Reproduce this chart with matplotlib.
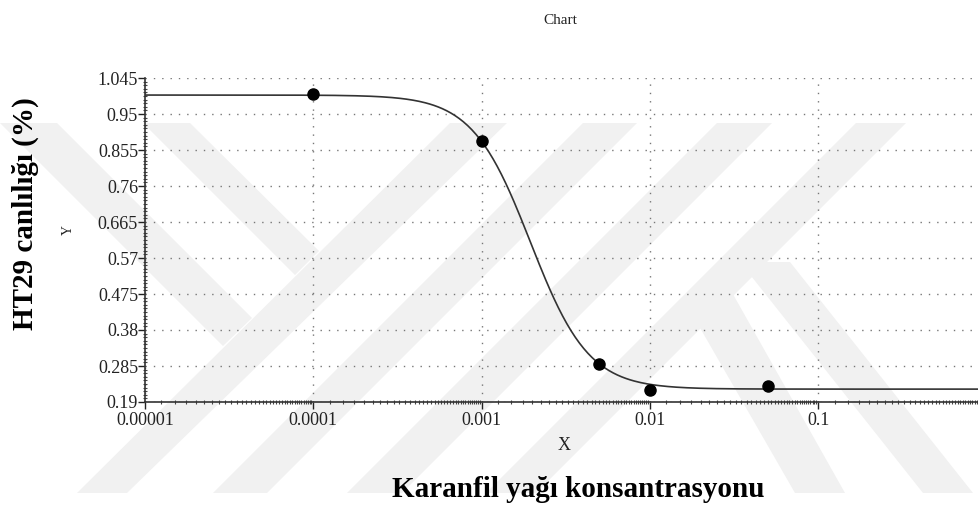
import numpy as np
import matplotlib
matplotlib.use("Agg")
from matplotlib import pyplot as plt
from matplotlib.patches import Polygon
from matplotlib.ticker import FixedLocator, FixedFormatter, LogLocator, NullFormatter, MultipleLocator

plt.rcParams['font.family'] = ['Liberation Serif', 'DejaVu Serif']

# doz-yanit verisi
konsantrasyon = [0.0001, 0.001, 0.005, 0.01, 0.05]
canlilik = [1.002, 0.878, 0.291, 0.222, 0.233]

# 4 parametreli lojistik egri parametreleri
ust, alt = 1.0, 0.224
ec50, hill = 0.00195, 2.51

x_ticks = [0.00001, 0.0001, 0.001, 0.01, 0.1]
x_tick_labels = ['0.00001', '0.0001', '0.001', '0.01', '0.1']
y_ticks = [0.19, 0.285, 0.38, 0.475, 0.57, 0.665, 0.76, 0.855, 0.95, 1.045]
y_tick_labels = ['0.19', '0.285', '0.38', '0.475', '0.57', '0.665', '0.76', '0.855', '0.95', '1.045']

W, H = 979, 511
fig = plt.figure(figsize=(W / 100, H / 100), dpi=100)

# arka plandaki filigran (piksel koordinatlari)
bg = fig.add_axes([0, 0, 1, 1])
bg.set_xlim(0, W)
bg.set_ylim(H, 0)
bg.axis('off')
gri = '#f1f1f1'
seritler = [
    # uzun "/" seritler
    [(450, 123), (507, 123), (127, 493), (77, 493)],
    [(583, 123), (637, 123), (267, 493), (213, 493)],
    [(717, 123), (772, 123), (402, 493), (347, 493)],
    [(856, 123), (906, 123), (536, 493), (486, 493)],
    # kisa "\" kollar
    [(0, 123), (57, 123), (252, 318), (223, 346)],
    [(143, 123), (190, 123), (319, 251), (295, 275)],
    # sagdaki "\" kollar
    [(684, 300), (725, 280), (845, 493), (795, 493)],
    [(740, 262), (790, 262), (973, 493), (923, 493)],
]
for s in seritler:
    bg.add_patch(Polygon(s, closed=True, facecolor=gri, edgecolor='none'))

ax = fig.add_axes([145 / W, 1 - 402 / H, (W - 145) / W, (402 - 78) / H])
ax.set_facecolor('none')

ax.set_xscale('log')
ax.set_xlim(1e-5, 10 ** ((W - 145) / 168.3 - 5))
ax.set_ylim(0.19, 1.045)

xx = np.logspace(-5, 0, 400)
yy = alt + (ust - alt) / (1 + (xx / ec50) ** hill)
ax.plot(xx, yy, color='#333333', lw=1.2, zorder=3)
ax.plot(konsantrasyon, canlilik, 'o', color='black', ms=8, zorder=4)

ax.xaxis.set_major_locator(FixedLocator(x_ticks))
ax.xaxis.set_major_formatter(FixedFormatter(x_tick_labels))
ax.xaxis.set_minor_locator(LogLocator(base=10, subs=np.arange(1.25, 10, 0.25), numticks=50))
ax.xaxis.set_minor_formatter(NullFormatter())
ax.yaxis.set_major_locator(FixedLocator(y_ticks))
ax.yaxis.set_major_formatter(FixedFormatter(y_tick_labels))
ax.yaxis.set_minor_locator(MultipleLocator(0.0095))

ax.tick_params(axis='both', which='major', direction='out', length=5, width=1,
               labelsize=13, colors='#222222')
ax.tick_params(axis='x', which='major', pad=2)
ax.tick_params(axis='y', which='major', pad=0)
ax.tick_params(axis='both', which='minor', direction='inout', length=2.5, width=0.8, colors='#444444')

ax.grid(True, which='major', color='#777777', linestyle=(0, (1, 5)), lw=1)

for side in ['top', 'right']:
    ax.spines[side].set_visible(False)
for side in ['left', 'bottom']:
    ax.spines[side].set_color('#333333')
    ax.spines[side].set_linewidth(1.2)

fig.text(560 / W, 1 - 20 / H, 'Chart', ha='center', va='center', fontsize=11, color='#222222')
fig.text(564 / W, 1 - 445 / H, 'X', ha='center', va='center', fontsize=13, color='#222222')
fig.text(68 / W, 1 - 230 / H, 'Y', ha='center', va='center', fontsize=10, rotation=90, color='#222222')
fig.text(25 / W, 1 - 214 / H, 'HT29 canlılığı (%)', ha='center', va='center', fontsize=21,
         fontweight='bold', rotation=90)
fig.text(578 / W, 1 - 489 / H, 'Karanfil yağı konsantrasyonu', ha='center', va='center',
         fontsize=21, fontweight='bold')

fig.savefig('out.png', dpi=100)
